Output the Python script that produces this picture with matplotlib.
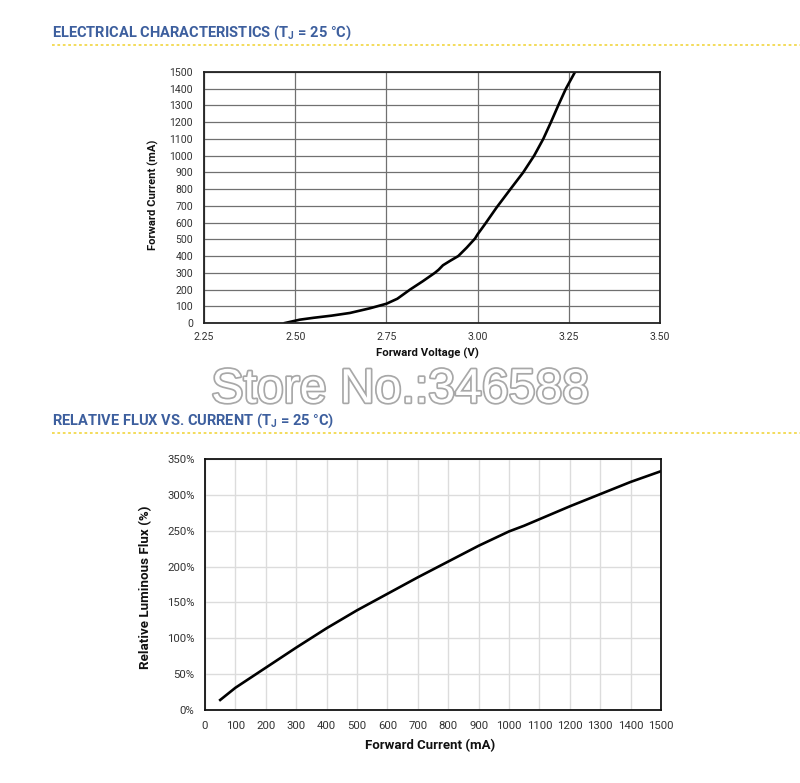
import matplotlib
import matplotlib.pyplot as plt
import matplotlib.patheffects as pe
import numpy as np
matplotlib.use('Agg')

plt.rcParams['font.family'] = ['Roboto', 'DejaVu Sans']
plt.rcParams['mathtext.fontset'] = 'custom'
plt.rcParams['mathtext.rm'] = 'Roboto:bold'

# forward voltage vs forward current
fv_volts = [2.472, 2.513, 2.55, 2.60, 2.65, 2.705, 2.75, 2.78, 2.815, 2.85, 2.883,
            2.893, 2.905, 2.925, 2.947, 2.97, 2.993, 3.0, 3.02, 3.052, 3.090,
            3.125, 3.155, 3.180, 3.201, 3.221, 3.242, 3.267]
fv_current = [0, 20, 31, 44, 60, 88, 115, 145, 200, 250, 300,
              318, 345, 372, 400, 450, 505, 530, 590, 690, 800,
              900, 1000, 1100, 1200, 1300, 1400, 1500]

# relative flux vs forward current
flux_current = [50, 100, 200, 300, 400, 500, 600, 700, 800, 900, 1000, 1050,
                1100, 1200, 1300, 1400, 1500]
flux_pct = [14, 31, 59, 87, 114, 139, 162, 185, 207, 229, 249, 257,
            266, 284, 301, 318, 333]

title_blue = '#3d5f9e'
dot_yellow = '#f2d94e'

fig = plt.figure(figsize=(8, 7.83), dpi=100)

# section headers
fig.text(52 / 800, 1 - 33 / 783, r'ELECTRICAL CHARACTERISTICS (T$_\mathregular{J}$ = 25 °C)',
         color=title_blue, fontsize=10.5, fontweight='bold', va='center')
fig.text(52 / 800, 1 - 421 / 783, r'RELATIVE FLUX VS. CURRENT (T$_\mathregular{J}$ = 25 °C)',
         color=title_blue, fontsize=10.5, fontweight='bold', va='center')
for yy in [45, 433]:
    fig.add_artist(plt.Line2D([52 / 800, 1.0], [1 - yy / 783] * 2, color=dot_yellow,
                              lw=1.3, ls=(0, (1.5, 1.5))))

# watermark
fig.text(400 / 800, 1 - 390 / 783, 'Store No.:346588', fontsize=34.7, color='white',
         ha='center', va='center', family=['Liberation Sans', 'DejaVu Sans'],
         path_effects=[pe.withStroke(linewidth=2.5, foreground='#a8a8a8')])

# top chart
ax1 = fig.add_axes([204 / 800, 1 - 323 / 783, 456 / 800, 251 / 783])
ax1.plot(fv_volts, fv_current, color='black', lw=1.9)
ax1.set_xlim(2.25, 3.50)
ax1.set_ylim(0, 1500)
ax1.set_xticks(np.arange(2.25, 3.51, 0.25))
ax1.set_xticklabels([f'{v:.2f}' for v in np.arange(2.25, 3.51, 0.25)])
ax1.set_yticks(np.arange(0, 1501, 100))
ax1.grid(True, color='#707070', lw=0.9)
ax1.set_axisbelow(True)
ax1.tick_params(length=0, labelsize=7.6, colors='#333333')
ax1.tick_params(axis='x', pad=6.5)
ax1.tick_params(axis='y', pad=8)
for s in ax1.spines.values():
    s.set_linewidth(1.3)
    s.set_color('#222222')
ax1.set_xlabel('Forward Voltage (V)', fontsize=8.2, fontweight='bold', color='#111111')
ax1.set_ylabel('Forward Current (mA)', fontsize=8.1, fontweight='bold', color='#111111')
ax1.xaxis.set_label_coords((427 - 204) / 456, -25 / 251)
ax1.yaxis.set_label_coords(-45 / 456, 0.51)

# bottom chart
ax2 = fig.add_axes([205 / 800, 1 - 710 / 783, 456 / 800, 251 / 783])
ax2.plot(flux_current, flux_pct, color='black', lw=1.9)
ax2.set_xlim(0, 1500)
ax2.set_ylim(0, 350)
ax2.set_xticks(np.arange(0, 1501, 100))
ax2.set_yticks(np.arange(0, 351, 50))
ax2.set_yticklabels([f'{v}%' for v in range(0, 351, 50)])
ax2.grid(True, color='#dcdcdc', lw=1.0)
ax2.set_axisbelow(True)
ax2.tick_params(length=0, labelsize=8.2, colors='#333333')
ax2.tick_params(axis='x', pad=8)
ax2.tick_params(axis='y', pad=7.5)
for s in ax2.spines.values():
    s.set_linewidth(1.3)
    s.set_color('#111111')
ax2.set_xlabel('Forward Current (mA)', fontsize=9.5, fontweight='bold', color='#111111')
ax2.set_ylabel('Relative Luminous Flux (%)', fontsize=9.6, fontweight='bold', color='#111111')
ax2.xaxis.set_label_coords((430 - 205) / 456, -29 / 251)
ax2.yaxis.set_label_coords(-53 / 456, 0.49)

fig.savefig('out.png', dpi=100)
